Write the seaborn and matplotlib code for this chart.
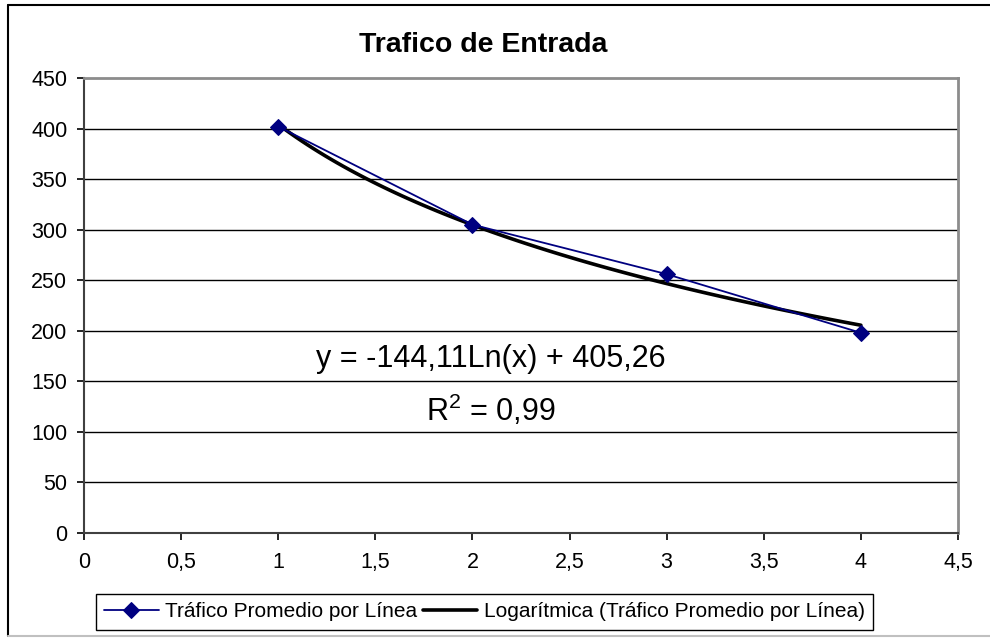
import numpy as np
import seaborn as sns
import matplotlib.pyplot as plt
from matplotlib.lines import Line2D

# Datos
lineas = [1, 2, 3, 4]
trafico = [402, 305, 256, 198]

x_ticks = [0, 0.5, 1, 1.5, 2, 2.5, 3, 3.5, 4, 4.5]
x_labels = ["0", "0,5", "1", "1,5", "2", "2,5", "3", "3,5", "4", "4,5"]
y_ticks = [0, 50, 100, 150, 200, 250, 300, 350, 400, 450]

ecuacion = "y = -144,11Ln(x) + 405,26"
r2 = r"R$^{\mathrm{2}}$ = 0,99"

# Estilo tipo Excel
sns.set_theme(style="white")
plt.rcParams['font.family'] = ['Liberation Sans', 'DejaVu Sans']
plt.rcParams['mathtext.fontset'] = 'custom'
plt.rcParams['mathtext.rm'] = 'Liberation Sans'
plt.rcParams['text.color'] = 'black'
plt.rcParams['xtick.color'] = 'black'
plt.rcParams['ytick.color'] = 'black'

fig = plt.figure(figsize=(9.9, 6.38), dpi=100)
ax = fig.add_axes([84 / 990, 1 - 533 / 638, (958 - 84) / 990, (533 - 78) / 638])

# Serie de datos
sns.lineplot(x=lineas, y=trafico, ax=ax, color="#000080", linewidth=1.3,
             marker="D", markersize=8, markeredgecolor="#000080",
             label="Tráfico Promedio por Línea", zorder=3)

# Línea de tendencia logarítmica
sns.regplot(x=np.array(lineas), y=np.array(trafico), ax=ax, logx=True,
            ci=None, scatter=False, color="black",
            line_kws={"linewidth": 2.6, "zorder": 2},
            label="Logarítmica (Tráfico Promedio por Línea)")

ax.set_xlim(0, 4.5)
ax.set_ylim(0, 450)
ax.set_xticks(x_ticks)
ax.set_xticklabels(x_labels)
ax.set_yticks(y_ticks)
ax.tick_params(axis="both", labelsize=15.5, colors="black", direction="out",
               length=5, width=1.2, left=True, bottom=True)
ax.tick_params(axis="y", pad=7)
ax.tick_params(axis="x", pad=9)
ax.set_xlabel("")
ax.set_ylabel("")

for y in y_ticks[:-1]:
    ax.axhline(y, color="black", linewidth=1, zorder=1)

ax.spines["left"].set_color("#404040")
ax.spines["left"].set_linewidth(1.5)
ax.spines["bottom"].set_color("#404040")
ax.spines["bottom"].set_linewidth(1.5)
ax.spines["top"].set_color("#8c8c8c")
ax.spines["top"].set_linewidth(2)
ax.spines["right"].set_color("#8c8c8c")
ax.spines["right"].set_linewidth(2)

# Ecuación y R2
ax.text(2.096, 164, ecuacion, ha="center", va="baseline", fontsize=22,
        color="black")
ax.text(2.096, 111, r2, ha="center", va="baseline", fontsize=22,
        color="black")

# Título
fig.text(483 / 990, 1 - 45 / 638, "Trafico de Entrada", ha="center",
         va="center", fontsize=20.5, fontweight="bold", color="black")

# Leyenda
ax.get_legend().remove()
handles, labels = ax.get_legend_handles_labels()
leg = fig.legend(handles, labels, loc="upper left",
                 bbox_to_anchor=(96 / 990, 1 - 594 / 638), ncol=2,
                 fontsize=15, frameon=True, fancybox=False, framealpha=1,
                 edgecolor="black", handlelength=2.6, handletextpad=0.3,
                 columnspacing=0.3, borderpad=0.4, borderaxespad=0)
leg.get_frame().set_linewidth(1)
for t in leg.get_texts():
    t.set_color("black")

# Borde exterior del gráfico
fig.add_artist(Line2D([8 / 990, 8 / 990], [1 - 636 / 638, 1 - 5 / 638],
                      color="black", linewidth=1.5, transform=fig.transFigure))
fig.add_artist(Line2D([8 / 990, 1], [1 - 5 / 638, 1 - 5 / 638],
                      color="black", linewidth=1.5, transform=fig.transFigure))
fig.add_artist(Line2D([8 / 990, 1], [1 - 636 / 638, 1 - 636 / 638],
                      color="#c0c0c0", linewidth=1.5, transform=fig.transFigure))

fig.savefig("out.png", dpi=100)
